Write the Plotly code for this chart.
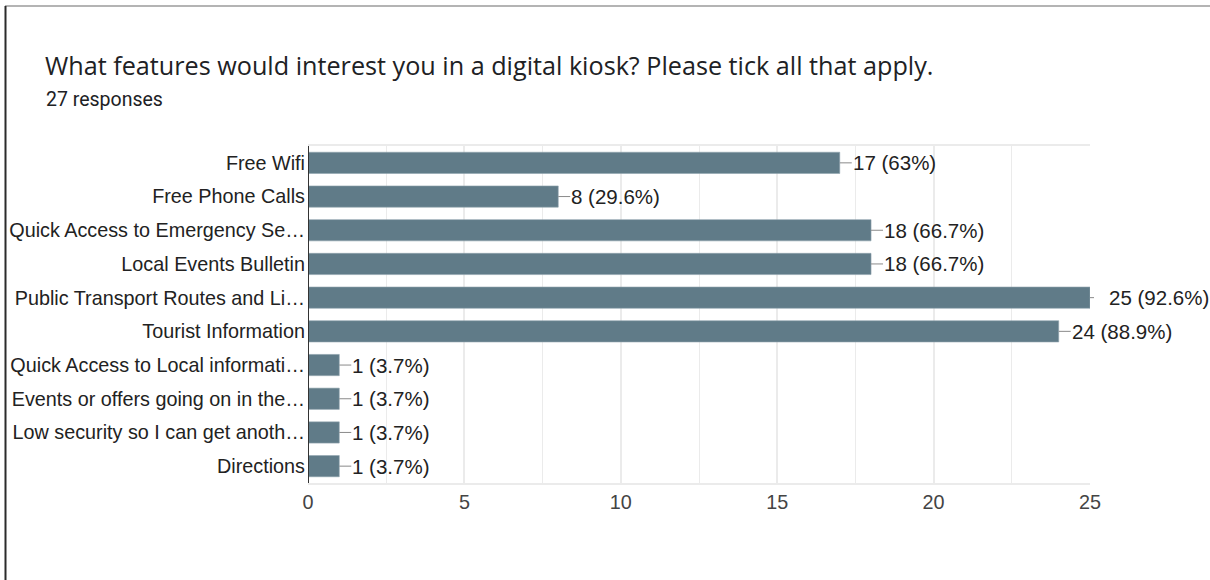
import plotly.graph_objects as go

# Survey results: "What features would interest you in a digital kiosk?"
categories = [
    "Free Wifi",
    "Free Phone Calls",
    "Quick Access to Emergency Se…",
    "Local Events Bulletin",
    "Public Transport Routes and Li…",
    "Tourist Information",
    "Quick Access to Local informati…",
    "Events or offers going on in the…",
    "Low security so I can get anoth…",
    "Directions",
]
counts = [17, 8, 18, 18, 25, 24, 1, 1, 1, 1]
total_responses = 27
x_ticks = [0, 5, 10, 15, 20, 25]

BAR_COLOR = "#607b88"
TEXT_COLOR = "#222222"
GRID_COLOR = "#ebebeb"
ARIAL = "Liberation Sans, Arial, sans-serif"

W, H = 1210, 580
L, R, T, B = 308, 120, 146, 97
plot_w = W - L - R
plot_h = H - T - B

fig = go.Figure(
    go.Bar(
        x=counts,
        y=categories,
        orientation="h",
        marker=dict(color=BAR_COLOR, line=dict(color="#8fa3ad", width=0.6)),
        hoverinfo="skip",
    )
)

# value labels with short leader lines
x_max = 25
for cat, v in zip(categories, counts):
    pct = v / total_responses * 100
    pct_txt = f"{pct:.1f}".rstrip("0").rstrip(".")
    at_edge = v >= x_max
    fig.add_annotation(
        x=v, y=cat, xref="x", yref="y",
        text=f"{v} ({pct_txt}%)",
        showarrow=True, arrowhead=0, arrowwidth=1, arrowcolor="#8a8a8a",
        ax=18 if at_edge else 12, ay=0,
        xanchor="left", yanchor="middle",
        startstandoff=14 if at_edge else 0,
        borderpad=0,
        font=dict(family=ARIAL, size=20.5, color=TEXT_COLOR),
    )

# card border (top and left edges)
def px_to_paper_x(px):
    return (px - L) / plot_w

def px_to_paper_y(py):
    return 1 - (py - T) / plot_h

fig.add_shape(type="line", xref="paper", yref="paper",
              x0=px_to_paper_x(5), x1=px_to_paper_x(W + 5),
              y0=px_to_paper_y(6), y1=px_to_paper_y(6),
              line=dict(color="#6b6b6b", width=1.2))
fig.add_shape(type="line", xref="paper", yref="paper",
              x0=px_to_paper_x(5.5), x1=px_to_paper_x(5.5),
              y0=px_to_paper_y(6), y1=px_to_paper_y(H + 5),
              line=dict(color="#2b2b2b", width=2))

# title and subtitle
fig.add_annotation(
    xref="paper", yref="paper",
    x=px_to_paper_x(43), y=px_to_paper_y(65),
    xanchor="left", yanchor="middle", showarrow=False,
    text="What features would interest you in a digital kiosk? Please tick all that apply.",
    font=dict(family="Open Sans, Roboto, sans-serif", size=25.2, color="#202124"),
)
fig.add_annotation(
    xref="paper", yref="paper",
    x=px_to_paper_x(44), y=px_to_paper_y(100),
    xanchor="left", yanchor="middle", showarrow=False,
    text=f"{total_responses} responses",
    font=dict(family="Roboto, sans-serif", size=19.5, color="#202124"),
)

fig.update_layout(
    width=W, height=H,
    margin=dict(l=L, r=R, t=T, b=B),
    paper_bgcolor="white", plot_bgcolor="white",
    showlegend=False,
    bargap=0.37,
    xaxis=dict(
        range=[0, x_max], tickvals=x_ticks, ticktext=[str(t) for t in x_ticks],
        showgrid=True, gridcolor=GRID_COLOR, gridwidth=1.5,
        minor=dict(dtick=2.5, showgrid=True, gridcolor=GRID_COLOR, gridwidth=1),
        zeroline=False, showline=True, linecolor=GRID_COLOR, linewidth=2, mirror=True,
        ticks="", ticklen=0, automargin=False,
        tickfont=dict(family=ARIAL, size=19.8, color="#444444"),
        fixedrange=True,
    ),
    yaxis=dict(
        autorange="reversed",
        showgrid=False, zeroline=False,
        showline=False, ticks="", automargin=False,
        ticklabelstandoff=2,
        tickfont=dict(family=ARIAL, size=19.8, color=TEXT_COLOR),
        fixedrange=True,
    ),
)

# dark baseline at x = 0
fig.add_shape(type="line", xref="x", yref="paper", x0=0, x1=0, y0=0, y1=1,
              line=dict(color="#333333", width=2), layer="above")

fig.write_html("out.html", config={"displayModeBar": False})
